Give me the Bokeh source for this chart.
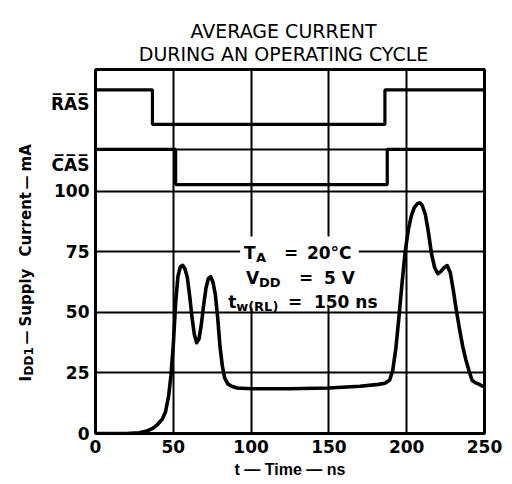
from bokeh.plotting import figure
from bokeh.models import Range1d, FixedTicker, Label, BoxAnnotation
from bokeh.layouts import column, row
from bokeh.embed import file_html
from bokeh.resources import INLINE

# ---- data ----
time_ns = [0, 20, 28, 33, 37, 40, 43, 45, 47, 48.5, 50, 51.5, 53, 54.5, 56, 57.5, 59,
           60.5, 62, 63.5, 65, 66.5, 68, 69.5, 71, 72.5, 74, 75.5, 77, 78.5, 80, 81.5,
           83, 85, 87.5, 91, 100, 125, 150, 170, 182, 186, 189, 191, 193, 195, 197,
           199, 201, 203, 205, 207, 208.5, 210, 212, 214, 216, 218, 220, 222, 224,
           226, 228, 230, 232, 234, 236, 238, 240, 242, 244, 246, 248, 250]
idd1_mA = [0, 0, 0.3, 1.0, 2.2, 3.8, 6.0, 9.0, 15.5, 24, 36.5, 54, 65, 68.8, 69.5, 68,
           64.5, 57, 48, 41, 37.5, 39, 45, 53, 60, 64, 64.8, 62.5, 57.5, 48, 36, 28,
           23, 20.5, 19.5, 18.8, 18.5, 18.5, 18.8, 19.5, 20.3, 20.8, 22, 26, 35, 48,
           62, 75, 84, 90, 93.5, 95, 95.3, 94.2, 90.5, 83, 74, 68.5, 66, 67, 68.5,
           69.4, 66.5, 59, 50.5, 43, 36, 30.5, 26, 22, 21, 20.5, 19.8, 19.3]

ras_edges_ns = [36.6, 186]
ras_levels = [142.0, 127.7, 142.0]
cas_edges_ns = [51.5, 187.5]
cas_levels = [117.4, 102.8, 117.4]

x_ticks = [0, 50, 100, 150, 200, 250]
y_ticks = [0, 25, 50, 75, 100]
signal_ticks = {111: "C\u0305A\u0305S\u0305", 136: "R\u0305A\u0305S\u0305"}
x_grid = [50, 100, 150, 200]
y_grid = [25, 50, 75, 100, 117.4]

title_lines = ["AVERAGE CURRENT", "DURING AN OPERATING CYCLE"]

X_MAX = 250
Y_MAX = 150.4

# ---- layout helpers (page px -> data of the main plot) ----
FL, FB, FW, FH = 94, 433, 390, 364
BT, BB = 2, 50
def dx(px):
    return (px - FL) * X_MAX / FW
def dy(py):
    return (FB - py) * Y_MAX / FH

def blank_fig(w, h, frame_bottom, bt=0, bb=0):
    f = figure(width=w, height=h, x_range=Range1d(0, w), y_range=Range1d(0, h - bt - bb),
               output_backend="svg", toolbar_location=None, title=None,
               x_axis_location=None, y_axis_location=None,
               min_border_left=0, min_border_right=0, min_border_top=bt, min_border_bottom=bb)
    f.grid.visible = False
    f.outline_line_color = None
    f.background_fill_color = "white"
    f.border_fill_color = "white"
    f._fb = frame_bottom
    return f

def add_label(f, px, py, text, size, font="DejaVu Sans", style="bold", align="left",
              angle=0, main=False):
    if main:
        x, y = dx(px), dy(py)
    else:
        x, y = px, f._fb - py
    f.add_layout(Label(x=x, y=y, text=text, text_font=font,
                       text_font_style=style, text_font_size=f"{size}px",
                       text_color="black", text_align=align, text_baseline="alphabetic",
                       angle=angle, angle_units="deg"))

# ---- main plot ----
p = figure(width=460, height=416, x_range=Range1d(0, X_MAX), y_range=Range1d(0, Y_MAX),
           output_backend="svg", toolbar_location=None, title=None,
           min_border_left=46, min_border_right=24, min_border_top=BT, min_border_bottom=BB)
p.background_fill_color = "white"
p.border_fill_color = "white"
p.outline_line_color = "black"
p.outline_line_width = 3

p.xaxis.ticker = FixedTicker(ticks=x_ticks)
p.yaxis.ticker = FixedTicker(ticks=y_ticks + list(signal_ticks.keys()))
p.yaxis.major_label_overrides = signal_ticks
for ax in (p.xaxis[0], p.yaxis[0]):
    ax.axis_line_color = None
    ax.major_tick_line_color = None
    ax.minor_tick_line_color = None
    ax.major_tick_out = 0
    ax.major_tick_in = 0
    ax.major_label_text_font = "DejaVu Sans"
    ax.major_label_text_font_style = "bold"
    ax.major_label_text_font_size = "17px"
    ax.major_label_text_color = "black"
    ax.major_label_standoff = 6
p.xaxis.axis_label = "t \u2014 Time \u2014 ns"
p.xaxis.axis_label_text_font = "Liberation Sans"
p.xaxis.axis_label_text_font_style = "bold"
p.xaxis.axis_label_text_font_size = "16px"
p.xaxis.axis_label_text_color = "black"
p.xaxis.axis_label_standoff = 5

p.xgrid.ticker = FixedTicker(ticks=x_grid)
p.ygrid.ticker = FixedTicker(ticks=y_grid)
p.grid.grid_line_color = "black"
p.grid.grid_line_width = 2

def step_xy(edges, levels):
    xs = [0]
    ys = [levels[0]]
    for e, a, b in zip(edges, levels[:-1], levels[1:]):
        xs += [e, e]
        ys += [a, b]
    xs.append(X_MAX)
    ys.append(levels[-1])
    return xs, ys

rx, ry = step_xy(ras_edges_ns, ras_levels)
cx, cy = step_xy(cas_edges_ns, cas_levels)
p.line(rx, ry, line_width=3.2, color="black")
p.line(cx, cy, line_width=3.2, color="black")
p.line(time_ns, idd1_mA, line_width=3.6, color="black", line_join="round")

# white boxes behind the condition text
for (l, r, t, b) in [(239, 358, 236, 262), (238, 362, 262, 285), (222, 388, 285, 307)]:
    p.add_layout(BoxAnnotation(left=dx(l), right=dx(r), top=dy(t), bottom=dy(b),
                               fill_color="white", fill_alpha=1, line_color=None))

# conditions
for (px, py, txt, sz) in [(243, 252.5, "T", 17), (255, 257, "A", 13), (283, 252.5, "=", 17),
                          (306, 252.5, "20\u00b0C", 17),
                          (245, 277, "V", 17), (258, 282, "DD", 13), (298, 277, "=", 17),
                          (323, 277, "5 V", 17),
                          (227, 301, "t", 17), (235, 305.5, "w(RL)", 13), (287, 301, "=", 17),
                          (313, 301, "150 ns", 17)]:
    add_label(p, px, py, txt, sz, main=True)

# ---- title strip (page y 0..67) ----
tf = blank_fig(508, 67, 67)
add_label(tf, 283, 30, title_lines[0], 19, style="normal", align="center")
add_label(tf, 283, 53, title_lines[1], 19, style="normal", align="center")

# ---- y-axis label strip (page x 0..48; frame aligned with main plot) ----
lf = blank_fig(48, 416, FB, bt=BT, bb=BB)
for (bx, start, txt, sz) in [(25, 381, "I", 15), (28.5, 375, "DD1", 12), (25, 344, "\u2014", 14),
                             (25, 326, "Supply", 15), (25, 256, "Current", 15),
                             (25, 189, "\u2014", 14), (25, 171, "mA", 15)]:
    add_label(lf, bx, start, txt, sz, angle=90)

layout = column(tf, row(lf, p, spacing=0), spacing=0)
open("out.html", "w").write(file_html(layout, INLINE))
